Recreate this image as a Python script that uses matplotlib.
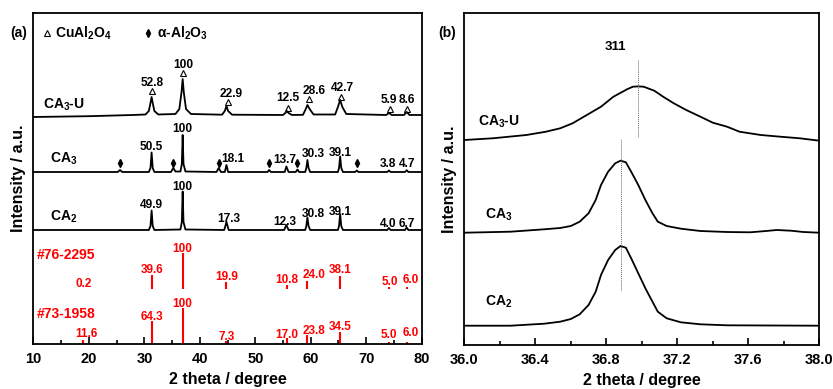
import matplotlib.pyplot as plt
from matplotlib.ticker import MultipleLocator, FormatStrFormatter

plt.rcParams['font.family'] = ['Liberation Sans', 'DejaVu Sans']
plt.rcParams['font.weight'] = 'bold'
plt.rcParams['axes.labelweight'] = 'bold'
plt.rcParams['mathtext.fontset'] = 'custom'
plt.rcParams['mathtext.bf'] = 'Liberation Sans:bold'
plt.rcParams['mathtext.rm'] = 'Liberation Sans:bold'
plt.rcParams['mathtext.default'] = 'bf'

# ---------------- panel (a) data: traced XRD patterns (intensity above own baseline)
ca3u_x = [10, 20, 28, 30.2, 30.8, 31.1, 31.3, 31.5, 31.8, 32.5, 35.6, 36.3, 36.7, 36.9, 37.1, 37.5,
          38.4, 44.0, 44.5, 44.8, 45.1, 45.8, 55.0, 55.5, 55.7, 56.0, 56.6, 58.6, 59.1, 59.4, 59.8,
          60.5, 64.4, 64.9, 65.3, 65.7, 66.4, 73.6, 74.1, 74.6, 76.8, 77.3, 77.8, 80]
ca3u_y = [0, 0.8, 2, 2.5, 6, 14, 20, 14, 6, 2.5, 3, 8, 25, 38, 25, 8,
          3, 2.3, 6, 11, 6, 2.3, 2, 4.5, 6, 4, 2, 2.2, 8, 12, 8,
          2.5, 2.5, 10, 17, 10, 3, 2, 4, 2, 2, 5, 2, 2]

ca3_x = [10, 25.2, 25.6, 26.0, 30.8, 31.1, 31.3, 31.5, 31.8, 34.8, 35.2, 35.6, 36.5, 36.75, 36.9,
         37.05, 37.4, 43.0, 43.4, 43.8, 44.5, 44.8, 45.1, 52.2, 52.5, 52.8, 55.3, 55.6, 56.0, 57.3,
         57.6, 57.9, 59.0, 59.2, 59.4, 59.6, 59.9, 64.9, 65.1, 65.3, 65.5, 65.8, 68.0, 68.3, 68.6,
         73.8, 74.1, 74.4, 77.0, 77.3, 77.6, 80]
ca3_y = [0, 0, 2, 0, 0, 4, 19.5, 4, 0, 0, 4, 0.5, 0.5, 8, 37,
         8, 0.5, 0, 4, 0, 0, 7, 0, 0, 2, 0, 0, 5.5, 0, 0,
         2.5, 0, 0, 4, 12, 4, 0, 0, 4, 15.5, 4, 0, 0, 1.5, 0,
         0, 1.5, 0, 0, 1.8, 0, 0]

ca2_x = [10, 30.8, 31.1, 31.3, 31.5, 31.8, 36.5, 36.75, 36.9, 37.05, 37.4, 44.4, 44.8, 45.2, 55.2,
         55.6, 56.0, 59.0, 59.2, 59.4, 59.6, 59.9, 64.9, 65.1, 65.3, 65.5, 65.8, 73.8, 74.1, 74.4,
         77.0, 77.3, 77.6, 80]
ca2_y = [0, 0, 4, 19.5, 4, 0, 0.5, 8, 38.5, 8, 0.5, 0, 8, 0, 0,
         5, 0, 0, 4, 12.5, 4, 0, 0, 4, 16, 4, 0, 0, 2, 0,
         0, 2.5, 0, 0]

# reference cards: stick positions and relative intensities
ref1_pos = [19.0, 31.3, 36.9, 44.8, 55.7, 59.4, 65.3, 74.1, 77.3]
ref1_int = [0.2, 39.6, 100, 19.9, 10.8, 24.0, 38.1, 5.0, 6.0]
ref2_pos = [19.0, 31.3, 36.9, 44.8, 55.7, 59.4, 65.3, 74.1, 77.3]
ref2_int = [11.6, 64.3, 100, 7.3, 17.0, 23.8, 34.5, 5.0, 6.0]

# peak ratio labels of the samples
ca3u_labels = ['52.8', '100', '22.9', '12.5', '28.6', '42.7', '5.9', '8.6']
ca3_labels = ['50.5', '100', '18.1', '13.7', '30.3', '39.1', '3.8', '4.7']
ca2_labels = ['49.9', '100', '17.3', '12.3', '30.8', '39.1', '4.0', '6.7']
cual2o4_pos = [31.4, 36.9, 45.0, 55.9, 59.6, 65.4, 74.3, 77.4]
al2o3_pos = [25.6, 35.2, 43.4, 52.5, 57.6, 68.3]

# ---------------- panel (b) data: 311 reflection
b_ca3u_x = [36.00, 36.16, 36.35, 36.46, 36.54, 36.61, 36.69, 36.77, 36.84, 36.92, 36.95, 36.98, 37.01,
            37.07, 37.12, 37.18, 37.25, 37.33, 37.40, 37.48, 37.55, 37.67, 37.78, 37.89, 38.00]
b_ca3u_y = [1, 2.7, 6, 9.3, 12.7, 17.7, 26, 34.3, 44.3, 52, 54.3, 54.6, 54.3,
            50.3, 44.3, 37.7, 31, 24.3, 18.3, 14.3, 9.3, 6, 4.3, 2.7, 0.3]
b_ca3_x = [36.00, 36.26, 36.45, 36.54, 36.60, 36.65, 36.70, 36.74, 36.77, 36.81, 36.85, 36.88, 36.91, 36.94,
           36.98, 37.02, 37.06, 37.09, 37.14, 37.22, 37.33, 37.48, 37.61, 37.70, 37.76, 37.84, 37.91, 38.00]
b_ca3_y = [0.3, 1.3, 3.7, 5, 7, 11.3, 19.7, 33, 48, 61.3, 69.7, 72.3, 70.7, 61.3,
           48, 33, 19.7, 11.3, 7, 4.3, 2, 1, 0.7, 2, 3, 2.3, 1, 0.3]
b_ca2_x = [36.00, 36.26, 36.45, 36.54, 36.60, 36.65, 36.70, 36.74, 36.77, 36.81, 36.85, 36.88, 36.91,
           36.94, 36.98, 37.02, 37.06, 37.09, 37.14, 37.22, 37.33, 37.48, 38.00]
b_ca2_y = [0.3, 0.3, 2.3, 4.3, 7, 11.7, 21, 34.3, 51, 66, 76, 80, 78.3,
           67.7, 52.7, 37.7, 24.3, 14.3, 7.7, 3.7, 1.7, 0.7, 0.3]

# ---------------- layout (stack offsets and label spots, in plot units)
off_ca3u, off_ca3, off_ca2, off_ref1, off_ref2 = 227, 172, 114, 54.7, 0
stick_scale = 0.36

ca3u_tri_y = [253, 271, 241.5, 236, 244.5, 246.5, 234.5, 234.5]
ca3u_lab_x = [31.4, 37.0, 45.6, 55.8, 60.6, 65.7, 74.0, 77.4]
ca3u_lab_y = [258, 276, 247, 243, 250, 253, 241, 241]
ca3_lab_x = [31.3, 36.9, 45.9, 55.3, 60.5, 65.3, 74.0, 77.4]
ca3_lab_y = [194, 212.3, 182, 181, 187, 188, 176.7, 176.7]
ca2_lab_x = [31.3, 36.9, 45.3, 55.3, 60.5, 65.3, 74.0, 77.4]
ca2_lab_y = [135.7, 154, 122.3, 119, 127, 128.7, 117.3, 117.3]
ref1_lab_x = [19.0, 31.4, 36.9, 44.9, 55.7, 60.6, 65.4, 74.3, 78.0]
ref1_lab_y = [57.3, 70.7, 92.3, 64, 60.7, 66.3, 70.7, 59, 60.7]
ref2_lab_x = [19.5, 31.4, 36.9, 44.9, 55.7, 60.5, 65.3, 74.0, 78.0]
ref2_lab_y = [7.3, 24, 37.3, 4, 6.3, 9.7, 14, 5.7, 8]

fig = plt.figure(figsize=(8.33, 3.89), dpi=100)
ax1 = fig.add_axes([0.0402, 0.1157, 0.4660, 0.8509])
ax2 = fig.add_axes([0.5574, 0.1131, 0.4262, 0.8535])

lw = 1.3
ax1.plot(ca3u_x, [v + off_ca3u for v in ca3u_y], color='black', lw=lw)
ax1.plot(ca3_x, [v + off_ca3 for v in ca3_y], color='black', lw=lw)
ax1.plot(ca2_x, [v + off_ca2 for v in ca2_y], color='black', lw=lw)
ax1.vlines(ref1_pos, off_ref1, [off_ref1 + stick_scale * v for v in ref1_int], color='red', lw=1.5)
ax1.vlines(ref2_pos, off_ref2, [off_ref2 + stick_scale * v for v in ref2_int], color='red', lw=1.5)

# markers and peak labels
ax1.plot(cual2o4_pos, ca3u_tri_y, ls='none', marker='^', ms=4.2, mfc='none', mec='black', mew=0.8)
ax1.plot(al2o3_pos, [off_ca3 + 9] * len(al2o3_pos), ls='none', marker='d', ms=4, color='black')
for t, x, y in zip(ca3u_labels, ca3u_lab_x, ca3u_lab_y):
    ax1.text(x, y, t, ha='center', va='baseline', fontsize=8.6)
for t, x, y in zip(ca3_labels, ca3_lab_x, ca3_lab_y):
    ax1.text(x, y, t, ha='center', va='baseline', fontsize=8.6)
for t, x, y in zip(ca2_labels, ca2_lab_x, ca2_lab_y):
    ax1.text(x, y, t, ha='center', va='baseline', fontsize=8.6)
for v, x, y in zip(ref1_int, ref1_lab_x, ref1_lab_y):
    ax1.text(x, y, f'{v:g}' if v == 100 else f'{v:.1f}', ha='center', va='baseline', fontsize=8.5, color='red')
for v, x, y in zip(ref2_int, ref2_lab_x, ref2_lab_y):
    ax1.text(x, y, f'{v:g}' if v == 100 else f'{v:.1f}', ha='center', va='baseline', fontsize=8.5, color='red')

ax1.text(11.8, 239, 'CA$_3$-U', va='center', fontsize=10)
ax1.text(13.0, 185.5, 'CA$_3$', va='center', fontsize=10)
ax1.text(13.0, 127.3, 'CA$_2$', va='center', fontsize=10)
ax1.text(10.6, 89, '#76-2295', va='center', fontsize=10, color='red')
ax1.text(10.6, 30, '#73-1958', va='center', fontsize=10, color='red')

# legend row
ax1.plot([12.4], [311], marker='^', ms=4.2, mfc='none', mec='black', mew=0.8)
ax1.text(13.9, 311, 'CuAl$_2$O$_4$', va='center', fontsize=10)
ax1.plot([30.6], [311], marker='d', ms=4, color='black')
ax1.text(32.3, 311, 'α-Al$_2$O$_3$', va='center', fontsize=10)

ax1.set_xlim(10, 80)
ax1.set_ylim(0, 331)
ax1.xaxis.set_major_locator(MultipleLocator(10))
ax1.xaxis.set_minor_locator(MultipleLocator(5))

# panel (b)
ax2.plot(b_ca3u_x, [v + 204 for v in b_ca3u_y], color='black', lw=lw)
ax2.plot(b_ca3_x, [v + 112 for v in b_ca3_y], color='black', lw=lw)
ax2.plot(b_ca2_x, [v + 19 for v in b_ca2_y], color='black', lw=lw)
ax2.plot([36.98, 36.98], [208.3, 285], color='dimgray', lw=0.7, ls=(0, (1, 1)))
ax2.plot([36.88, 36.88], [55, 205.7], color='dimgray', lw=0.7, ls=(0, (1, 1)))
ax2.text(36.85, 298, '311', ha='center', va='center', fontsize=9.5)
ax2.text(36.075, 223.5, 'CA$_3$-U', va='center', fontsize=10)
ax2.text(36.117, 130, 'CA$_3$', va='center', fontsize=10)
ax2.text(36.117, 43, 'CA$_2$', va='center', fontsize=10)
ax2.set_xlim(36.0, 38.0)
ax2.set_ylim(0, 332)
ax2.xaxis.set_major_locator(MultipleLocator(0.4))
ax2.xaxis.set_minor_locator(MultipleLocator(0.2))
ax2.xaxis.set_major_formatter(FormatStrFormatter('%.1f'))

for ax, lx in ((ax1, -0.039), (ax2, -0.043)):
    ax.set_yticks([])
    ax.tick_params(axis='x', which='major', direction='in', length=5, width=1.2, labelsize=10.5, pad=6)
    ax.tick_params(axis='x', which='minor', direction='in', length=3, width=1.2)
    for s in ax.spines.values():
        s.set_linewidth(1.3)
    ax.set_xlabel('2 theta / degree', fontsize=11.5, labelpad=4)
    ax.set_ylabel('Intensity / a.u.', fontsize=11.5)
    ax.yaxis.set_label_coords(lx, 0.5)
    ax.yaxis.label.set_verticalalignment('center')

fig.text(19 / 833, 1 - 33 / 389, '(a)', ha='center', va='center', fontsize=10)
fig.text(447 / 833, 1 - 33 / 389, '(b)', ha='center', va='center', fontsize=10)

fig.savefig('out.png', dpi=100)
